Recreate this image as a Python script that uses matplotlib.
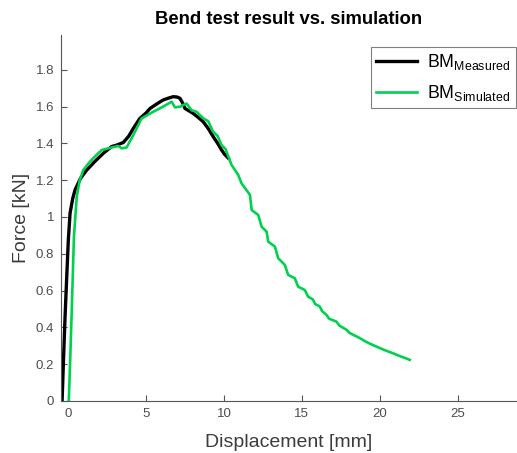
import numpy as np
import matplotlib
matplotlib.use('Agg')
import matplotlib.pyplot as plt

plt.rcParams['font.family'] = 'Liberation Sans'
plt.rcParams['mathtext.fontset'] = 'custom'
plt.rcParams['mathtext.rm'] = 'Liberation Sans'
plt.rcParams['mathtext.it'] = 'Liberation Sans'

# measured bend test (black)
meas_x = [-0.38, -0.3, -0.19, -0.08, 0.02, 0.13, 0.3, 0.45, 0.8, 1.2, 1.7, 2.26, 2.8,
          3.1, 3.4, 3.55, 3.9, 4.19, 4.6, 5.0, 5.26, 5.7, 6.1, 6.4, 6.75, 7.0,
          7.18, 7.35, 7.5, 7.8, 8.03, 8.3, 8.67, 9.0, 9.31, 9.6, 9.85, 10.05, 10.28]
meas_y = [0.0, 0.2, 0.458, 0.68, 0.875, 1.02, 1.1, 1.147, 1.21, 1.255, 1.3, 1.346, 1.383,
          1.39, 1.4, 1.405, 1.44, 1.482, 1.535, 1.565, 1.59, 1.615, 1.636, 1.645, 1.654, 1.652,
          1.645, 1.62, 1.59, 1.575, 1.563, 1.545, 1.518, 1.48, 1.437, 1.4, 1.364, 1.34, 1.32]

# simulation (green)
sim_x = [0.05, 0.15, 0.24, 0.38, 0.56, 0.75, 0.98, 1.3, 1.62, 2.16, 2.8, 3.22, 3.44,
         3.76, 4.19, 4.72, 5.47, 6.1, 6.65, 6.86, 7.2, 7.6, 7.93, 8.25, 8.45, 8.68,
         9.0, 9.3, 9.6, 9.85, 10.1, 10.49, 10.92, 11.13, 11.67, 11.78, 12.2, 12.42,
         12.74, 12.84, 13.27, 13.48, 13.91, 14.12, 14.55, 14.76, 15.19, 15.4, 15.7,
         15.85, 16.15, 16.3, 16.58, 16.75, 17.22, 17.4, 17.87, 18.05, 18.4, 18.72,
         19.1, 19.4, 19.79, 20.2, 20.5, 20.85, 21.3, 21.6, 21.92]
sim_y = [0.0, 0.25, 0.495, 0.893, 1.11, 1.2, 1.255, 1.29, 1.32, 1.364, 1.378, 1.386, 1.373,
         1.378, 1.446, 1.536, 1.572, 1.6, 1.627, 1.596, 1.6, 1.617, 1.58, 1.572, 1.555, 1.536,
         1.52, 1.464, 1.44, 1.39, 1.37, 1.283, 1.228, 1.183, 1.12, 1.038, 1.011, 0.947,
         0.92, 0.866, 0.839, 0.776, 0.739, 0.685, 0.667, 0.621, 0.603, 0.567, 0.552,
         0.527, 0.513, 0.488, 0.467, 0.447, 0.431, 0.41, 0.386, 0.37, 0.355, 0.341,
         0.322, 0.31, 0.295, 0.28, 0.27, 0.259, 0.243, 0.234, 0.223]

fig = plt.figure(figsize=[5.17, 4.53], dpi=100)
ax = fig.add_axes([0.118, 0.115, 0.882, 0.808])

ax.plot(meas_x, meas_y, color='black', lw=2.4, label=r'BM$_{\mathrm{Measured}}$')
ax.plot(sim_x, sim_y, color='#00d14f', lw=1.9, label=r'BM$_{\mathrm{Simulated}}$')

ax.set_xlim(-0.45, 28.8)
ax.set_ylim(0, 1.99)
ax.set_xticks([0, 5, 10, 15, 20, 25])
ax.set_yticks(np.arange(0, 1.81, 0.2))
ax.set_yticklabels(['0', '0.2', '0.4', '0.6', '0.8', '1', '1.2', '1.4', '1.6', '1.8'])

for s in ['top', 'right']:
    ax.spines[s].set_visible(False)
for s in ['left', 'bottom']:
    ax.spines[s].set_color('#555555')
    ax.spines[s].set_linewidth(0.8)
ax.tick_params(direction='in', length=4, width=0.8, colors='#555555',
               labelsize=9.5, labelcolor='#4d4d4d', pad=5)

ax.set_xlabel('Displacement [mm]', fontsize=14, color='#3c3c3c', labelpad=10)
ax.set_ylabel('Force [kN]', fontsize=14, color='#3c3c3c', labelpad=4)
ax.set_title('Bend test result vs. simulation', fontsize=13.3, fontweight='bold', pad=8)

leg = ax.legend(loc='upper right', bbox_to_anchor=(0.997, 0.967), fontsize=12.8,
                fancybox=False, framealpha=1, edgecolor='#808080',
                handlelength=2.3, borderpad=0.3, labelspacing=0.6, handletextpad=0.55,
                borderaxespad=0)
leg.get_frame().set_linewidth(0.8)

plt.savefig('out.png', dpi=100)
